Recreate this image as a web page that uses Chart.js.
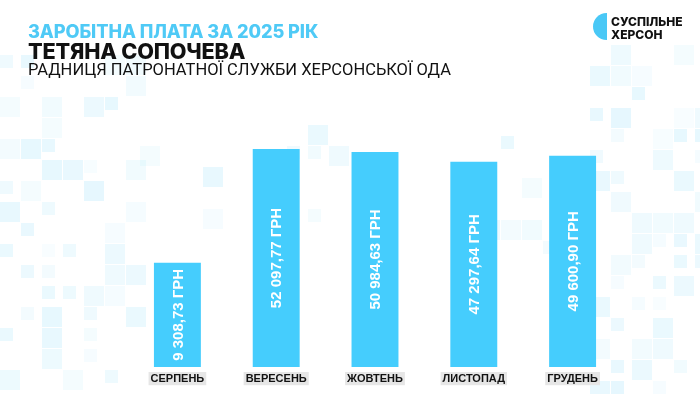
<!DOCTYPE html>
<html lang="uk">
<head>
  <meta charset="UTF-8">
  <title>Заробітна плата за 2025 рік</title>
  <script src="https://cdn.jsdelivr.net/npm/chart.js"></script>
  <style>
    html, body { margin: 0; padding: 0; background: #fff; }
    #wrap { position: relative; width: 700px; height: 394px; overflow: hidden; background: #fff; }
    #chart { position: absolute; left: 0; top: 0; }
    .t { position: absolute; left: 28px; white-space: nowrap; font-family: Inter, "Liberation Sans", sans-serif; }
    #t1 { top: 20px; font-size: 18.2px; font-weight: 800; color: #4fcaf6; letter-spacing: -0.1px; }
    #t2 { top: 38px; font-size: 21.7px; font-weight: 800; color: #111; letter-spacing: -0.2px; }
    #t3 { top: 60px; font-size: 16.5px; font-weight: 400; color: #111; font-family: Roboto, sans-serif; }
    #logo { position: absolute; left: 593px; top: 13px; width: 14px; height: 27px; background: #49c8f6; border-radius: 14px 0 0 14px; }
    #logoText { position: absolute; left: 611px; top: 15px; font-family: Inter, "Liberation Sans", sans-serif; font-weight: 800; font-size: 12px; line-height: 13px; color: #111; }
  </style>
</head>
<body>
  <div id="wrap">
    <canvas id="chart" width="700" height="394"></canvas>
    <div class="t" id="t1">ЗАРОБІТНА ПЛАТА ЗА 2025 РІК</div>
    <div class="t" id="t2">ТЕТЯНА СОПОЧЕВА</div>
    <div class="t" id="t3">РАДНИЦЯ ПАТРОНАТНОЇ СЛУЖБИ ХЕРСОНСЬКОЇ ОДА</div>
    <div id="logo"></div>
    <div id="logoText">СУСПІЛЬНЕ<br>ХЕРСОН</div>
  </div>

  <script>
    // дані
    const months = ['СЕРПЕНЬ', 'ВЕРЕСЕНЬ', 'ЖОВТЕНЬ', 'ЛИСТОПАД', 'ГРУДЕНЬ'];
    const salaries = [9308.73, 52097.77, 50984.63, 47297.64, 49600.90];
    const currency = 'ГРН';
    const axisMin = -30000;
    const axisMax = 57000;

    function formatUah(v) {
      const parts = v.toFixed(2).split('.');
      return parts[0].replace(/\B(?=(\d{3})+(?!\d))/g, ' ') + ',' + parts[1] + ' ' + currency;
    }

    // фонові "пікселі" (декор)
    const decor = {
      id: 'decor',
      beforeDraw(chart) {
        const ctx = chart.ctx;
        let seed = 11;
        const rnd = () => { seed = (seed * 16807) % 2147483647; return seed / 2147483647; };
        const zones = [
          [0, 55, 140, 390, 0.45],
          [590, 45, 700, 390, 0.5],
          [140, 125, 330, 245, 0.18],
          [480, 115, 600, 275, 0.18]
        ];
        ctx.save();
        zones.forEach(z => {
          for (let y = z[1]; y < z[3]; y += 21) {
            for (let x = z[0]; x < z[2]; x += 21) {
              const r = rnd();
              if (r > z[4]) continue;
              const a = 0.04 + rnd() * 0.1;
              const s = rnd() > 0.5 ? 20 : 13;
              ctx.fillStyle = 'rgba(73,200,246,' + a.toFixed(3) + ')';
              ctx.fillRect(x, y, s, s);
            }
          }
        });
        ctx.restore();
      }
    };

    // підписи значень усередині стовпців
    const valueLabels = {
      id: 'valueLabels',
      afterDatasetsDraw(chart) {
        const ctx = chart.ctx;
        const meta = chart.getDatasetMeta(0);
        ctx.save();
        ctx.fillStyle = '#ffffff';
        ctx.font = 'bold 15px "Liberation Sans", Arial, sans-serif';
        ctx.textAlign = 'center';
        ctx.textBaseline = 'middle';
        meta.data.forEach((bar, i) => {
          ctx.save();
          ctx.translate(bar.x, (bar.y + bar.base) / 2);
          ctx.rotate(-Math.PI / 2);
          ctx.fillText(formatUah(salaries[i]), 0, 1);
          ctx.restore();
        });
        ctx.restore();
      }
    };

    new Chart(document.getElementById('chart'), {
      type: 'bar',
      data: {
        labels: months,
        datasets: [{
          data: salaries,
          base: axisMin,
          backgroundColor: '#45cdfd',
          borderWidth: 0,
          categoryPercentage: 1,
          barPercentage: 0.475
        }]
      },
      options: {
        responsive: false,
        animation: false,
        layout: { padding: { left: 128, right: 78, top: 136, bottom: 3.8 } },
        plugins: { legend: { display: false }, tooltip: { enabled: false } },
        scales: {
          x: {
            grid: { display: false, drawTicks: false },
            border: { display: false },
            ticks: {
              color: '#111111',
              font: { family: '"Liberation Sans", Arial, sans-serif', size: 11, weight: 'bold' },
              padding: 5,
              showLabelBackdrop: true,
              backdropColor: '#e6e6e6',
              backdropPadding: { top: 0, bottom: 0, left: 2, right: 2 }
            }
          },
          y: {
            display: false,
            min: axisMin,
            max: axisMax
          }
        }
      },
      plugins: [decor, valueLabels]
    });
  </script>
</body>
</html>
